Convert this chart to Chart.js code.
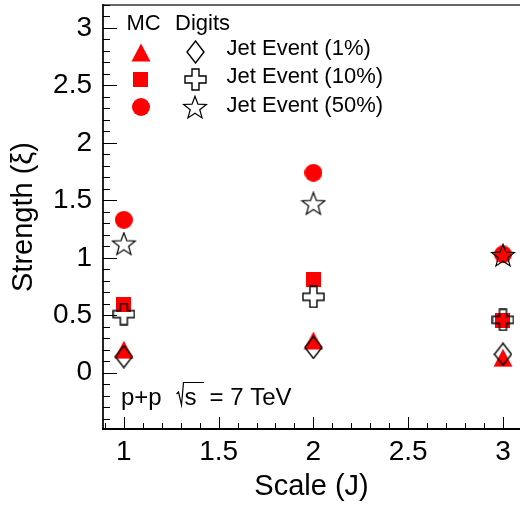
<!DOCTYPE html>
<html>
<head>
<meta charset="utf-8">
<script src="https://cdn.jsdelivr.net/npm/chart.js@4/dist/chart.umd.min.js"></script>
<style>
  html, body { margin: 0; padding: 0; background: #fff; }
  #wrap { width: 520px; height: 506px; }
</style>
</head>
<body>
<div id="wrap"><canvas id="c" width="520" height="506"></canvas></div>
<script>
// ---- data ----
const scaleJ = [1, 2, 3];
const mcJet1 = [0.20, 0.28, 0.13];
const mcJet10 = [0.59, 0.81, 0.45];
const mcJet50 = [1.33, 1.74, 1.03];
const digJet1 = [0.14, 0.22, 0.16];
const digJet10 = [0.51, 0.66, 0.46];
const digJet50 = [1.12, 1.47, 1.02];
const xTickValues = [1, 1.5, 2, 2.5, 3];
const xTickLabels = ['1', '1.5', '2', '2.5', '3'];
const yTickValues = [0, 0.5, 1, 1.5, 2, 2.5, 3];
const yTickLabels = ['0', '0.5', '1', '1.5', '2', '2.5', '3'];
const legendLabels = ['Jet Event (1%)', 'Jet Event (10%)', 'Jet Event (50%)'];
const legendHeaders = ['MC', 'Digits'];
const xTitle = 'Scale (J)';
const yTitle = 'Strength (\u03BE)';

const FONT = '"Liberation Sans", Arial, Helvetica, sans-serif';
const RED = '#ff0000';

// ---- marker images ----
function mk(w, h, draw) {
  const c = document.createElement('canvas');
  c.width = w; c.height = h;
  const g = c.getContext('2d');
  draw(g, w, h);
  return c;
}
const mTriangle = mk(20, 19, (g) => {
  g.fillStyle = RED; g.beginPath();
  g.moveTo(10, 0.5); g.lineTo(19.5, 18.5); g.lineTo(0.5, 18.5); g.closePath(); g.fill();
});
const mSquare = mk(15, 15, (g) => { g.fillStyle = RED; g.fillRect(0, 0, 15, 15); });
const mCircle = mk(18, 18, (g) => {
  g.fillStyle = RED; g.beginPath(); g.arc(9, 9, 9, 0, Math.PI * 2); g.fill();
});
const mDiamond = mk(19, 24, (g) => {
  g.strokeStyle = '#000'; g.lineWidth = 1.4; g.beginPath();
  g.moveTo(9.5, 1); g.lineTo(18, 12); g.lineTo(9.5, 23); g.lineTo(1, 12); g.closePath(); g.stroke();
});
const mCross = mk(23, 23, (g) => {
  g.strokeStyle = '#000'; g.lineWidth = 1.4; g.beginPath();
  const o = 1, s = 21, a = 7, b = 14;
  g.moveTo(o + a, o); g.lineTo(o + b, o); g.lineTo(o + b, o + a); g.lineTo(o + s, o + a);
  g.lineTo(o + s, o + b); g.lineTo(o + b, o + b); g.lineTo(o + b, o + s); g.lineTo(o + a, o + s);
  g.lineTo(o + a, o + b); g.lineTo(o, o + b); g.lineTo(o, o + a); g.lineTo(o + a, o + a); g.closePath();
  g.stroke();
});
const mStar = mk(26, 25, (g) => {
  g.strokeStyle = '#000'; g.lineWidth = 1.2; g.beginPath();
  const cx = 13, cy = 13.2, R = 12, r = 5.0;
  for (let i = 0; i < 10; i++) {
    const ang = -Math.PI / 2 + i * Math.PI / 5;
    const rr = i % 2 === 0 ? R : r;
    const px = cx + rr * Math.cos(ang), py = cy + rr * Math.sin(ang);
    if (i === 0) g.moveTo(px, py); else g.lineTo(px, py);
  }
  g.closePath(); g.stroke();
});

function pts(ys) { return scaleJ.map((x, i) => ({ x: x, y: ys[i] })); }
function ds(ys, img, order) {
  return { data: pts(ys), pointStyle: img, pointRadius: 10, pointHoverRadius: 10, showLine: false, order: order, clip: false };
}

const ticksPlugin = {
  id: 'rootFrame',
  afterDraw(chart) {
    const ctx = chart.ctx;
    const ca = chart.chartArea;
    const xs = chart.scales.x, ys = chart.scales.y;
    ctx.save();
    // top frame
    ctx.strokeStyle = '#666'; ctx.lineWidth = 2;
    ctx.beginPath(); ctx.moveTo(ca.left, ca.top); ctx.lineTo(ca.right, ca.top); ctx.stroke();
    // axes
    ctx.strokeStyle = '#222'; ctx.lineWidth = 2;
    ctx.beginPath(); ctx.moveTo(ca.left, ca.top - 1); ctx.lineTo(ca.left, ca.bottom); ctx.stroke();
    ctx.strokeStyle = '#000';
    ctx.beginPath(); ctx.moveTo(ca.left - 1, ca.bottom); ctx.lineTo(ca.right, ca.bottom); ctx.stroke();
    // inward ticks
    ctx.lineWidth = 1; ctx.strokeStyle = '#000';
    ctx.beginPath();
    for (let k = Math.ceil(xs.min * 10 - 1e-6); k <= Math.floor(xs.max * 10 + 1e-6); k++) {
      const px = Math.round(xs.getPixelForValue(k / 10)) + 0.5;
      const len = (k % 5 === 0) ? 12 : 6;
      ctx.moveTo(px, ca.bottom); ctx.lineTo(px, ca.bottom - len);
    }
    for (let k = Math.ceil(ys.min * 10 - 1e-6); k <= Math.floor(ys.max * 10 + 1e-6); k++) {
      const py = Math.round(ys.getPixelForValue(k / 10)) + 0.5;
      const len = (k % 5 === 0) ? 14 : 7;
      ctx.moveTo(ca.left, py); ctx.lineTo(ca.left + len, py);
    }
    ctx.stroke();

    // legend
    ctx.fillStyle = '#000';
    ctx.font = '22px ' + FONT;
    ctx.textBaseline = 'alphabetic';
    ctx.textAlign = 'left';
    ctx.fillText(legendHeaders[0], 126.5, 30);
    ctx.fillText(legendHeaders[1], 175, 30);
    const rowsY = [52, 79.5, 107];
    const textY = [55, 83, 111.5];
    const mcImgs = [mTriangle, mSquare, mCircle];
    const dgImgs = [mDiamond, mCross, mStar];
    for (let i = 0; i < 3; i++) {
      const a = mcImgs[i], b = dgImgs[i];
      ctx.drawImage(a, Math.round(140.5 - a.width / 2), Math.round(rowsY[i] - a.height / 2));
      ctx.drawImage(b, Math.round(195 - b.width / 2), Math.round(rowsY[i] - b.height / 2));
      ctx.fillText(legendLabels[i], 226.5, textY[i]);
    }

    // p+p sqrt(s) = 7 TeV
    ctx.font = '24px ' + FONT;
    const by = 405;
    ctx.fillText('p+p', 121, by);
    // radical
    ctx.lineWidth = 1.2;
    ctx.beginPath();
    ctx.moveTo(176.5, 394); ctx.lineTo(178.5, 392); ctx.lineTo(181.5, 405);
    ctx.lineTo(183.5, 382.5); ctx.lineTo(204, 382.5);
    ctx.stroke();
    ctx.fillText('s', 184.5, by);
    ctx.fillText('= 7 TeV', 209.5, by);
    ctx.restore();
  }
};

new Chart(document.getElementById('c'), {
  type: 'scatter',
  data: {
    datasets: [
      ds(digJet1, mDiamond, 0),
      ds(digJet10, mCross, 0),
      ds(digJet50, mStar, 0),
      ds(mcJet1, mTriangle, 1),
      ds(mcJet10, mSquare, 1),
      ds(mcJet50, mCircle, 1)
    ]
  },
  options: {
    responsive: false,
    animation: false,
    devicePixelRatio: 1,
    events: [],
    layout: { autoPadding: false, padding: { left: 0, top: 5, right: 0, bottom: 0 } },
    plugins: { legend: { display: false }, tooltip: { enabled: false }, title: { display: false } },
    scales: {
      x: {
        type: 'linear', min: 0.89, max: 3.09,
        grid: { display: false }, border: { display: false },
        afterBuildTicks: (s) => { s.ticks = xTickValues.map(v => ({ value: v })); },
        afterFit: (s) => { s.height = 77; s.paddingLeft = 0; s.paddingRight = 0; s.paddingTop = 0; s.paddingBottom = 0; },
        ticks: {
          color: '#000', padding: -2, maxRotation: 0, autoSkip: false,
          font: { family: FONT, size: 28 },
          callback: (v, i) => xTickLabels[i]
        },
        title: { display: true, text: xTitle, color: '#000', font: { family: FONT, size: 29, lineHeight: 1 }, padding: { top: 0, bottom: 5 } }
      },
      y: {
        type: 'linear', min: -0.49, max: 3.2,
        grid: { display: false }, border: { display: false },
        afterBuildTicks: (s) => { s.ticks = yTickValues.map(v => ({ value: v })); },
        afterFit: (s) => { s.width = 103; s.paddingLeft = 0; s.paddingRight = 0; s.paddingTop = 0; s.paddingBottom = 0; },
        ticks: {
          color: '#000', padding: 3, autoSkip: false,
          font: { family: FONT, size: 28 },
          callback: (v, i) => yTickLabels[i]
        },
        title: { display: true, text: yTitle, color: '#000', font: { family: FONT, size: 29, lineHeight: 1 }, padding: { top: 9, bottom: 0 } }
      }
    }
  },
  plugins: [ticksPlugin]
});
</script>
</body>
</html>
